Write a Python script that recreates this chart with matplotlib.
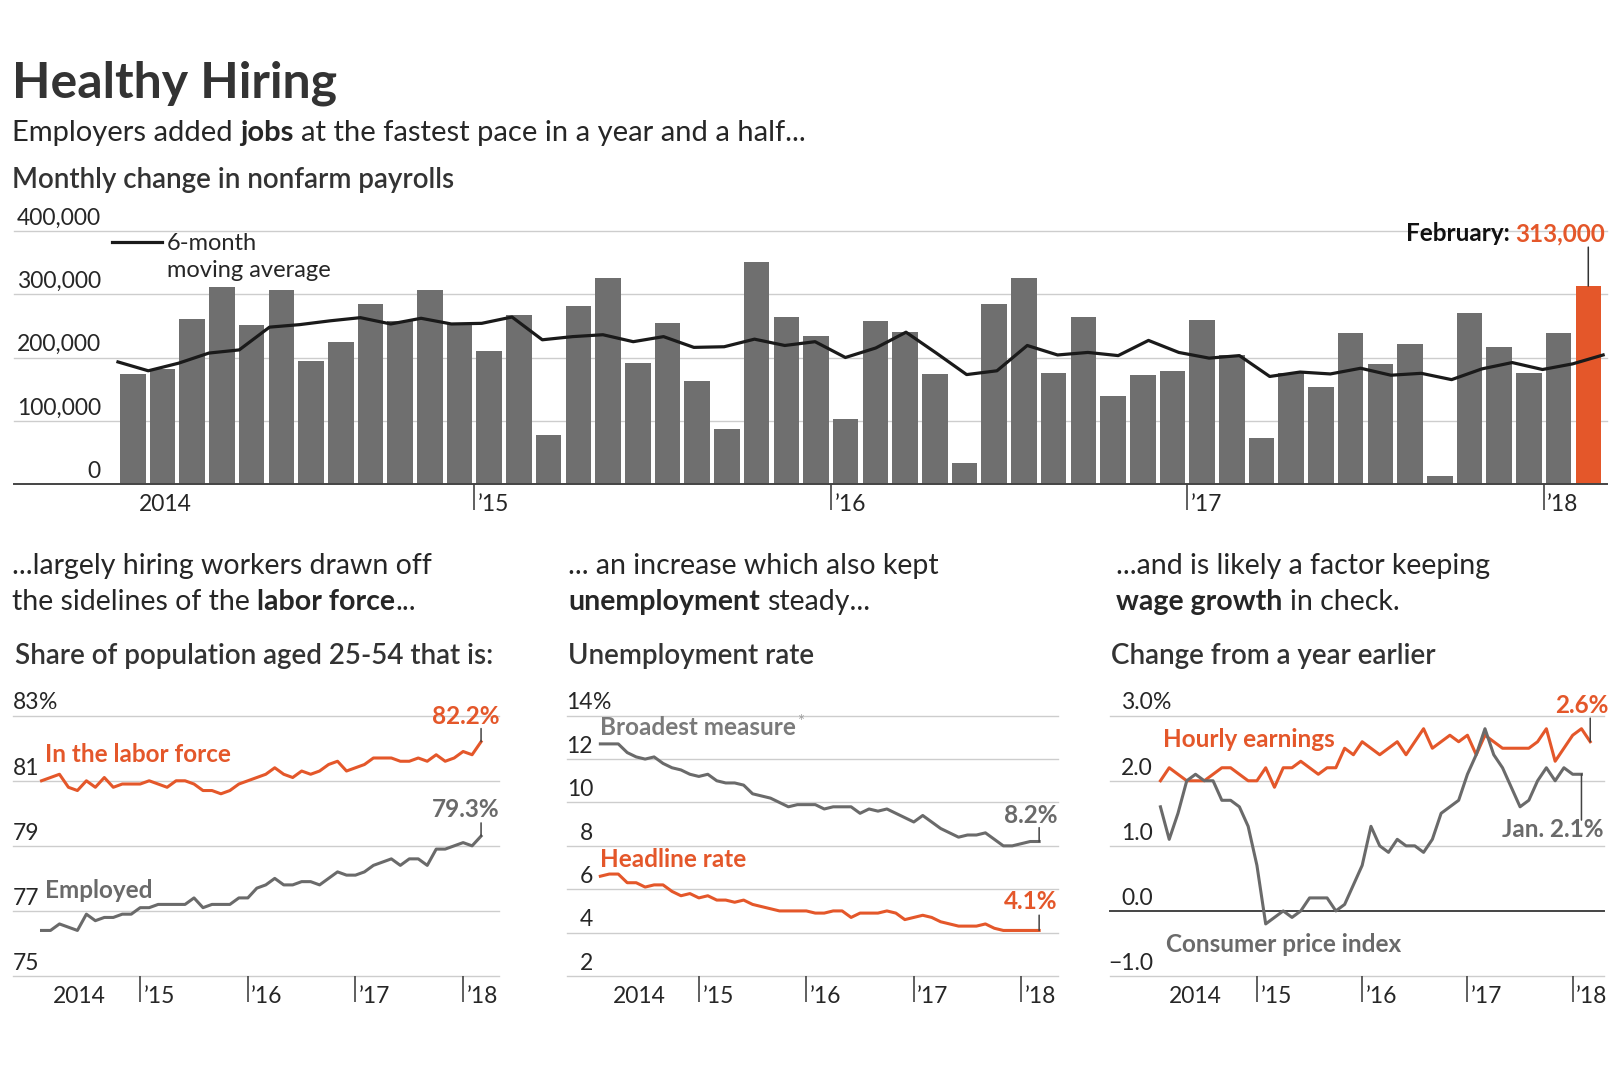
import numpy as np
import matplotlib.pyplot as plt
from matplotlib.lines import Line2D

plt.rcParams['font.family'] = ['Lato', 'DejaVu Sans']

# ---- values (monthly, Jan 2014 - Feb 2018) ----
# nonfarm payrolls, thousands
payrolls = [174, 182, 261, 311, 252, 306, 195, 225, 284, 257, 307, 254,
            211, 267, 77, 282, 326, 191, 255, 163, 87, 351, 264, 234,
            103, 257, 240, 174, 33, 285, 325, 175, 264, 139, 172, 179,
            259, 204, 73, 175, 154, 239, 190, 221, 13, 271, 216, 175,
            239, 313]
payrolls_ma = [193, 179, 191, 207, 212, 248, 252, 258, 263, 253, 262, 253,
               254, 264, 228, 233, 236, 225, 233, 216, 217, 229, 219, 225,
               200, 215, 240, 207, 173, 179, 219, 204, 208, 203, 227, 208,
               199, 203, 170, 177, 174, 183, 172, 175, 165, 182, 192, 181,
               190, 204]

labor_force = [81.0, 81.1, 81.2, 80.8, 80.7, 81.0, 80.8, 81.1, 80.8, 80.9, 80.9, 80.9,
               81.0, 80.9, 80.8, 81.0, 81.0, 80.9, 80.7, 80.7, 80.6, 80.7, 80.9, 81.0,
               81.1, 81.2, 81.4, 81.2, 81.1, 81.3, 81.2, 81.3, 81.5, 81.6, 81.3, 81.4,
               81.5, 81.7, 81.7, 81.7, 81.6, 81.6, 81.7, 81.6, 81.8, 81.6, 81.7, 81.9,
               81.8, 82.2]
employed = [76.4, 76.4, 76.6, 76.5, 76.4, 76.9, 76.7, 76.8, 76.8, 76.9, 76.9, 77.1,
            77.1, 77.2, 77.2, 77.2, 77.2, 77.4, 77.1, 77.2, 77.2, 77.2, 77.4, 77.4,
            77.7, 77.8, 78.0, 77.8, 77.8, 77.9, 77.9, 77.8, 78.0, 78.2, 78.1, 78.1,
            78.2, 78.4, 78.5, 78.6, 78.4, 78.6, 78.6, 78.4, 78.9, 78.9, 79.0, 79.1,
            79.0, 79.3]

u6 = [12.7, 12.7, 12.7, 12.3, 12.1, 12.0, 12.1, 11.8, 11.6, 11.5, 11.3, 11.2,
      11.3, 11.0, 10.9, 10.9, 10.8, 10.4, 10.3, 10.2, 10.0, 9.8, 9.9, 9.9,
      9.9, 9.7, 9.8, 9.8, 9.8, 9.5, 9.7, 9.6, 9.7, 9.5, 9.3, 9.1,
      9.4, 9.1, 8.8, 8.6, 8.4, 8.5, 8.5, 8.6, 8.3, 8.0, 8.0, 8.1,
      8.2, 8.2]
u3 = [6.6, 6.7, 6.7, 6.3, 6.3, 6.1, 6.2, 6.2, 5.9, 5.7, 5.8, 5.6,
      5.7, 5.5, 5.5, 5.4, 5.5, 5.3, 5.2, 5.1, 5.0, 5.0, 5.0, 5.0,
      4.9, 4.9, 5.0, 5.0, 4.7, 4.9, 4.9, 4.9, 5.0, 4.9, 4.6, 4.7,
      4.8, 4.7, 4.5, 4.4, 4.3, 4.3, 4.3, 4.4, 4.2, 4.1, 4.1, 4.1,
      4.1, 4.1]

hourly = [2.0, 2.2, 2.1, 2.0, 2.0, 2.0, 2.1, 2.2, 2.2, 2.1, 2.0, 2.0,
          2.2, 1.9, 2.2, 2.2, 2.3, 2.2, 2.1, 2.2, 2.2, 2.5, 2.4, 2.6,
          2.5, 2.4, 2.5, 2.6, 2.4, 2.6, 2.8, 2.5, 2.6, 2.7, 2.6, 2.7,
          2.4, 2.7, 2.6, 2.5, 2.5, 2.5, 2.5, 2.6, 2.8, 2.3, 2.5, 2.7,
          2.8, 2.6]
cpi = [1.6, 1.1, 1.5, 2.0, 2.1, 2.0, 2.0, 1.7, 1.7, 1.6, 1.3, 0.7,
       -0.2, -0.1, 0.0, -0.1, 0.0, 0.2, 0.2, 0.2, 0.0, 0.1, 0.4, 0.7,
       1.3, 1.0, 0.9, 1.1, 1.0, 1.0, 0.9, 1.1, 1.5, 1.6, 1.7, 2.1,
       2.4, 2.8, 2.4, 2.2, 1.9, 1.6, 1.7, 2.0, 2.2, 2.0, 2.2, 2.1,
       2.1]

year_labels = ['2014', '\u201915', '\u201916', '\u201917', '\u201918']

ORANGE = '#e4572a'
BAR_GRAY = '#6f6f6f'
LINE_GRAY = '#6a6a6a'
TEXT = '#262626'
GRID = '#cdcdcd'
AXIS = '#444444'
TICK_FS = 16.5
LABEL_FS = 17.5
NARR_FS = 20.5
HEAD_FS = 20

W, H = 1620, 1080
fig = plt.figure(figsize=(W / 100, H / 100), dpi=100)
renderer = fig.canvas.get_renderer()


def px_axes(left, top, right, bottom):
    ax = fig.add_axes([left / W, 1 - bottom / H, (right - left) / W, (bottom - top) / H])
    for s in ax.spines.values():
        s.set_visible(False)
    ax.set_yticks([])
    ax.patch.set_alpha(0)
    return ax


def put(x, y, s, **kw):
    kw.setdefault('va', 'baseline')
    return fig.text(x / W, 1 - y / H, s, **kw)


def width_px(s, **kw):
    a = fig.text(0, 0, '|' + s + '|', **kw)
    b = fig.text(0, 0, '||', **kw)
    w = a.get_window_extent(renderer).width - b.get_window_extent(renderer).width
    a.remove()
    b.remove()
    return w


def rich(x, y, parts, size, color=TEXT):
    for s, weight in parts:
        lead = s[:len(s) - len(s.lstrip())]
        x0 = x + (width_px(lead, fontsize=size, fontweight=weight) if lead else 0)
        put(x0, y, s.strip(), fontsize=size, fontweight=weight, color=color)
        x += width_px(s, fontsize=size, fontweight=weight)


def grid_and_labels(ax, values, labels, x_right, left_px, right_px, dark=None):
    frac = (x_right - left_px) / (right_px - left_px)
    for v, lab in zip(values, labels):
        c, lw = (AXIS, 1.4) if v == dark else (GRID, 1.0)
        ax.axhline(v, color=c, lw=lw, zorder=0, clip_on=False)
        ax.annotate(lab, xy=(frac, v), xycoords=ax.get_yaxis_transform(),
                    xytext=(0, 4.5), textcoords='offset points', ha='right',
                    va='baseline', fontsize=TICK_FS, color=TEXT)
    ax.annotate('%', xy=(frac, values[-1]), xycoords=ax.get_yaxis_transform(),
                xytext=(0, 4.5), textcoords='offset points', ha='left',
                va='baseline', fontsize=TICK_FS, color=TEXT)


def year_ticks(ax, first, ticks):
    ax.set_xticks(ticks)
    ax.tick_params(axis='x', length=18.5, width=1.2, color=AXIS, labelbottom=False)
    for pos, lab in zip([first] + list(ticks), year_labels):
        ax.annotate(lab, xy=(pos, 0), xycoords=ax.get_xaxis_transform(),
                    xytext=(2.5, -19.5), textcoords='offset points', ha='left',
                    va='baseline', fontsize=TICK_FS, color=TEXT)


# ---- headings ----
put(12, 97, 'Healthy Hiring', fontsize=36, fontweight='bold', color='#333333')
rich(12, 141, [('Employers added ', 'normal'), ('jobs', 'bold'),
               (' at the fastest pace in a year and a half...', 'normal')], 21)
put(12, 188, 'Monthly change in nonfarm payrolls', fontsize=HEAD_FS,
    fontweight='semibold', color='#333333')

# ---- bar chart ----
axb = px_axes(14, 231, 1607, 484)
xb = np.arange(len(payrolls))
bar_colors = [BAR_GRAY] * (len(payrolls) - 1) + [ORANGE]
axb.bar(xb, np.array(payrolls) * 1000, width=0.86, color=bar_colors, zorder=2)
x_ma = np.linspace(-0.5, len(payrolls) - 0.5, len(payrolls_ma))
axb.plot(x_ma, np.array(payrolls_ma) * 1000, color='#1a1a1a', lw=2.3, zorder=3)
axb.set_xlim(-4.0, 49.63)
axb.set_ylim(0, 400000)
bar_vals = [0, 100000, 200000, 300000, 400000]
frac = (101 - 14) / (1607 - 14)
for v in bar_vals:
    if v > 0:
        axb.axhline(v, color=GRID, lw=1.0, zorder=0, clip_on=False)
    axb.annotate(f'{v:,}', xy=(frac, v), xycoords=axb.get_yaxis_transform(),
                 xytext=(0, 4.5), textcoords='offset points', ha='right',
                 va='baseline', fontsize=TICK_FS, color=TEXT)
axb.spines['bottom'].set_visible(True)
axb.spines['bottom'].set_color(AXIS)
axb.spines['bottom'].set_linewidth(1.4)
year_ticks(axb, 0.1, [11.5, 23.5, 35.5, 47.5])

fig.add_artist(Line2D([112 / W, 162 / W], [1 - 242 / H, 1 - 242 / H],
                      color='#1a1a1a', lw=2.3))
put(167, 250, '6-month', fontsize=17, color=TEXT)
put(167, 277, 'moving average', fontsize=17, color=TEXT)

w313 = width_px('313,000', fontsize=LABEL_FS, fontweight='bold')
put(1605, 241, '313,000', fontsize=LABEL_FS, fontweight='bold', color=ORANGE, ha='right')
put(1605 - w313 - 5, 241, 'February:', fontsize=LABEL_FS, fontweight='bold',
    color='#111111', ha='right')
axb.annotate('', xy=(len(payrolls) - 1, payrolls[-1] * 1000), xytext=(0, 28),
             textcoords='offset points',
             arrowprops=dict(arrowstyle='-', color='#333333', lw=1.1,
                             shrinkA=0, shrinkB=0))

# ---- lower panels: narrative text ----
rich(12, 574, [('...largely hiring workers drawn off', 'normal')], NARR_FS)
rich(12, 610, [('the sidelines of the ', 'normal'), ('labor force', 'bold'),
               ('...', 'normal')], NARR_FS)
put(15, 664, 'Share of population aged 25-54 that is:', fontsize=HEAD_FS,
    fontweight='semibold', color='#333333')

rich(568, 574, [('... an increase which also kept', 'normal')], NARR_FS)
rich(568, 610, [('unemployment', 'bold'), (' steady...', 'normal')], NARR_FS)
put(568, 664, 'Unemployment rate', fontsize=HEAD_FS, fontweight='semibold',
    color='#333333')

rich(1116, 574, [('...and is likely a factor keeping', 'normal')], NARR_FS)
rich(1116, 610, [('wage growth', 'bold'), (' in check.', 'normal')], NARR_FS)
put(1111, 664, 'Change from a year earlier', fontsize=HEAD_FS, fontweight='semibold',
    color='#333333')

line_ticks = [11, 23, 35, 47]


def end_label(ax, x, y, text, color, up, gap, dx=13):
    ax.annotate('', xy=(x, y), xytext=(0, up), textcoords='offset points',
                arrowprops=dict(arrowstyle='-', color=AXIS, lw=1.1,
                                shrinkA=0, shrinkB=0))
    ax.annotate(text, xy=(x, y), xytext=(dx, up + gap), textcoords='offset points',
                ha='right', va='baseline', fontsize=LABEL_FS, fontweight='bold',
                color=color)


# left panel
axl = px_axes(13, 715.7, 499, 976)
axl.plot(np.arange(len(labor_force)), labor_force, color=ORANGE, lw=2.2, zorder=3)
axl.plot(np.arange(len(employed)), employed, color=LINE_GRAY, lw=2.2, zorder=3)
axl.set_xlim(-3.18, 51.0)
axl.set_ylim(75, 83)
grid_and_labels(axl, [75, 77, 79, 81, 83], ['75', '77', '79', '81', '83'],
                39, 13, 499)
year_ticks(axl, 0.9, line_ticks)
put(45, 762, 'In the labor force', fontsize=LABEL_FS, fontweight='bold', color=ORANGE)
put(45, 898, 'Employed', fontsize=LABEL_FS, fontweight='bold', color=LINE_GRAY)
end_label(axl, len(labor_force) - 1, labor_force[-1], '82.2%', ORANGE, 9.5, 3.5)
end_label(axl, len(employed) - 1, employed[-1], '79.3%', LINE_GRAY, 9.5, 4)

# middle panel
axm = px_axes(566.6, 715.7, 1057.5, 976)
axm.plot(np.arange(len(u6)), u6, color=LINE_GRAY, lw=2.2, zorder=3)
axm.plot(np.arange(len(u3)), u3, color=ORANGE, lw=2.2, zorder=3)
axm.set_xlim(-3.77, 51.05)
axm.set_ylim(2, 14)
grid_and_labels(axm, [2, 4, 6, 8, 10, 12, 14], ['2', '4', '6', '8', '10', '12', '14'],
                593, 566.6, 1057.5)
year_ticks(axm, 1.0, line_ticks)
put(600, 735, 'Broadest measure', fontsize=LABEL_FS, fontweight='bold', color='#7a7a7a')
wbm = width_px('Broadest measure', fontsize=LABEL_FS, fontweight='bold')
put(601 + wbm, 727, '*', fontsize=12, color='#a0a0a0')
put(600, 867, 'Headline rate', fontsize=LABEL_FS, fontweight='bold', color=ORANGE)
end_label(axm, len(u6) - 1, u6[-1], '8.2%', LINE_GRAY, 10, 3.5)
end_label(axm, len(u3) - 1, u3[-1], '4.1%', ORANGE, 11, 4.5)

# right panel
axr = px_axes(1110, 715.7, 1604, 976)
axr.plot(np.arange(len(hourly)), hourly, color=ORANGE, lw=2.2, zorder=3)
axr.plot(np.arange(len(cpi)), cpi, color=LINE_GRAY, lw=2.2, zorder=3)
axr.set_xlim(-5.75, 50.57)
axr.set_ylim(-1, 3)
grid_and_labels(axr, [-1, 0, 1, 2, 3], ['\u22121.0', '0.0', '1.0', '2.0', '3.0'],
                1153, 1110, 1604, dark=0)
year_ticks(axr, 0.6, line_ticks)
put(1163, 747, 'Hourly earnings', fontsize=LABEL_FS, fontweight='bold', color=ORANGE)
put(1166, 952, 'Consumer price index', fontsize=LABEL_FS, fontweight='bold',
    color=LINE_GRAY)
end_label(axr, len(hourly) - 1, hourly[-1], '2.6%', ORANGE, 17, 3.5)
axr.annotate('', xy=(len(cpi) - 1, cpi[-1]), xytext=(0, -33),
             textcoords='offset points',
             arrowprops=dict(arrowstyle='-', color=AXIS, lw=1.1, shrinkA=0, shrinkB=0))
axr.annotate('Jan. 2.1%', xy=(len(cpi) - 1, cpi[-1]), xytext=(16, -45),
             textcoords='offset points', ha='right', va='baseline', fontsize=LABEL_FS,
             fontweight='bold', color=LINE_GRAY)

fig.savefig('out.png', dpi=100, facecolor='white')
